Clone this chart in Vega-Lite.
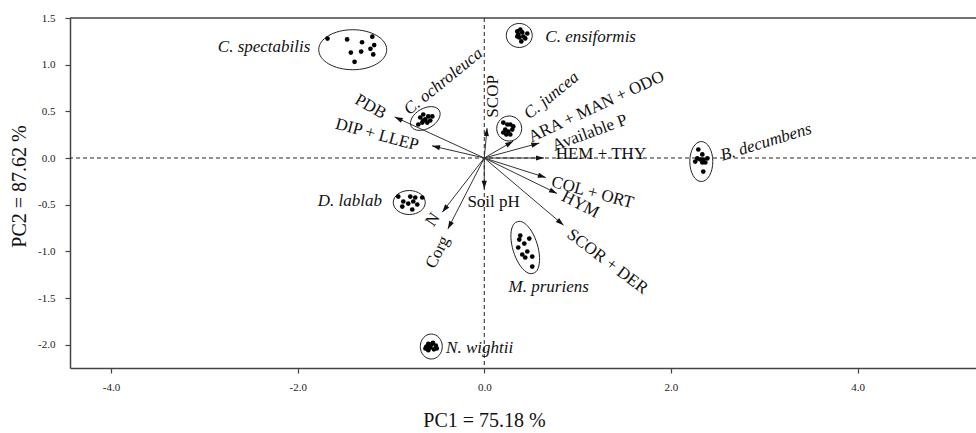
{
  "$schema": "https://vega.github.io/schema/vega-lite/v6.json",
  "width": 906,
  "height": 350,
  "autosize": {"type": "none"},
  "padding": {"left": 70, "top": 18, "right": 0, "bottom": 65},
  "background": "white",
  "config": {
    "view": {"stroke": null},
    "locale": {"number": {"decimal": ".", "thousands": ",", "grouping": [3], "currency": ["$", ""], "minus": "-"}},
    "axis": {
      "grid": false,
      "labelFont": "Liberation Serif",
      "labelFontSize": 11,
      "labelColor": "#222",
      "domainColor": "#444",
      "domainWidth": 1.5,
      "tickColor": "#444",
      "tickSize": 5,
      "tickWidth": 1.2,
      "titleFont": "Liberation Serif",
      "titleFontSize": 20,
      "titleFontWeight": "normal",
      "titleColor": "#111"
    },
    "text": {"font": "Liberation Serif", "fontSize": 17, "color": "#111"}
  },
  "datasets": {
    "points": [
      {"group": "C. spectabilis", "x": -1.68, "y": 1.28},
      {"group": "C. spectabilis", "x": -1.47, "y": 1.27},
      {"group": "C. spectabilis", "x": -1.31, "y": 1.24},
      {"group": "C. spectabilis", "x": -1.2, "y": 1.3},
      {"group": "C. spectabilis", "x": -1.18, "y": 1.21},
      {"group": "C. spectabilis", "x": -1.22, "y": 1.17},
      {"group": "C. spectabilis", "x": -1.32, "y": 1.14},
      {"group": "C. spectabilis", "x": -1.43, "y": 1.13},
      {"group": "C. spectabilis", "x": -1.19, "y": 1.11},
      {"group": "C. spectabilis", "x": -1.39, "y": 1.03},
      {"group": "C. ensiformis", "x": 0.354, "y": 1.356},
      {"group": "C. ensiformis", "x": 0.386, "y": 1.377},
      {"group": "C. ensiformis", "x": 0.407, "y": 1.345},
      {"group": "C. ensiformis", "x": 0.364, "y": 1.324},
      {"group": "C. ensiformis", "x": 0.418, "y": 1.302},
      {"group": "C. ensiformis", "x": 0.375, "y": 1.292},
      {"group": "C. ensiformis", "x": 0.439, "y": 1.281},
      {"group": "C. ensiformis", "x": 0.397, "y": 1.249},
      {"group": "C. ensiformis", "x": 0.354, "y": 1.302},
      {"group": "C. ensiformis", "x": 0.461, "y": 1.334},
      {"group": "C. ochroleuca", "x": -0.686, "y": 0.434},
      {"group": "C. ochroleuca", "x": -0.654, "y": 0.466},
      {"group": "C. ochroleuca", "x": -0.632, "y": 0.413},
      {"group": "C. ochroleuca", "x": -0.6, "y": 0.445},
      {"group": "C. ochroleuca", "x": -0.665, "y": 0.38},
      {"group": "C. ochroleuca", "x": -0.707, "y": 0.359},
      {"group": "C. ochroleuca", "x": -0.611, "y": 0.38},
      {"group": "C. ochroleuca", "x": -0.579, "y": 0.402},
      {"group": "C. ochroleuca", "x": -0.654, "y": 0.402},
      {"group": "C. ochroleuca", "x": -0.557, "y": 0.445},
      {"group": "C. juncea", "x": 0.204, "y": 0.38},
      {"group": "C. juncea", "x": 0.247, "y": 0.359},
      {"group": "C. juncea", "x": 0.279, "y": 0.359},
      {"group": "C. juncea", "x": 0.225, "y": 0.305},
      {"group": "C. juncea", "x": 0.257, "y": 0.284},
      {"group": "C. juncea", "x": 0.3, "y": 0.305},
      {"group": "C. juncea", "x": 0.311, "y": 0.338},
      {"group": "C. juncea", "x": 0.236, "y": 0.252},
      {"group": "C. juncea", "x": 0.204, "y": 0.273},
      {"group": "C. juncea", "x": 0.279, "y": 0.252},
      {"group": "B. decumbens", "x": 2.294, "y": 0.091},
      {"group": "B. decumbens", "x": 2.337, "y": 0.038},
      {"group": "B. decumbens", "x": 2.283, "y": -0.005},
      {"group": "B. decumbens", "x": 2.315, "y": -0.016},
      {"group": "B. decumbens", "x": 2.347, "y": -0.016},
      {"group": "B. decumbens", "x": 2.39, "y": -0.005},
      {"group": "B. decumbens", "x": 2.261, "y": -0.038},
      {"group": "B. decumbens", "x": 2.337, "y": -0.048},
      {"group": "B. decumbens", "x": 2.369, "y": -0.048},
      {"group": "B. decumbens", "x": 2.347, "y": -0.145},
      {"group": "D. lablab", "x": -0.922, "y": -0.413},
      {"group": "D. lablab", "x": -0.793, "y": -0.413},
      {"group": "D. lablab", "x": -0.74, "y": -0.423},
      {"group": "D. lablab", "x": -0.665, "y": -0.423},
      {"group": "D. lablab", "x": -0.868, "y": -0.466},
      {"group": "D. lablab", "x": -0.761, "y": -0.466},
      {"group": "D. lablab", "x": -0.815, "y": -0.488},
      {"group": "D. lablab", "x": -0.718, "y": -0.498},
      {"group": "D. lablab", "x": -0.879, "y": -0.52},
      {"group": "D. lablab", "x": -0.772, "y": -0.552},
      {"group": "M. pruriens", "x": 0.386, "y": -0.831},
      {"group": "M. pruriens", "x": 0.375, "y": -0.874},
      {"group": "M. pruriens", "x": 0.482, "y": -0.863},
      {"group": "M. pruriens", "x": 0.429, "y": -0.917},
      {"group": "M. pruriens", "x": 0.364, "y": -0.959},
      {"group": "M. pruriens", "x": 0.461, "y": -1.002},
      {"group": "M. pruriens", "x": 0.407, "y": -1.034},
      {"group": "M. pruriens", "x": 0.439, "y": -1.066},
      {"group": "M. pruriens", "x": 0.514, "y": -1.056},
      {"group": "M. pruriens", "x": 0.514, "y": -1.163},
      {"group": "N. wightii", "x": -0.6, "y": -1.99},
      {"group": "N. wightii", "x": -0.55, "y": -1.98},
      {"group": "N. wightii", "x": -0.52, "y": -2.01},
      {"group": "N. wightii", "x": -0.58, "y": -2.03},
      {"group": "N. wightii", "x": -0.62, "y": -2.02},
      {"group": "N. wightii", "x": -0.54, "y": -2.05},
      {"group": "N. wightii", "x": -0.6, "y": -2.06},
      {"group": "N. wightii", "x": -0.57, "y": -2.0},
      {"group": "N. wightii", "x": -0.51, "y": -2.04},
      {"group": "N. wightii", "x": -0.63, "y": -2.04}
    ],
    "ellipses": [
      {"group": "C. spectabilis", "x": -1.41, "y": 1.16},
      {"group": "C. ensiformis", "x": 0.375, "y": 1.313},
      {"group": "C. ochroleuca", "x": -0.632, "y": 0.423},
      {"group": "C. juncea", "x": 0.267, "y": 0.316},
      {"group": "B. decumbens", "x": 2.326, "y": -0.038},
      {"group": "D. lablab", "x": -0.804, "y": -0.477},
      {"group": "M. pruriens", "x": 0.439, "y": -0.959},
      {"group": "N. wightii", "x": -0.568, "y": -2.02}
    ],
    "arrows": [
      {"variable": "PDB", "x0": 0, "y0": 0, "x": -0.96, "y": 0.44},
      {"variable": "DIP + LLEP", "x0": 0, "y0": 0, "x": -0.56, "y": 0.13},
      {"variable": "SCOP", "x0": 0, "y0": 0, "x": 0.03, "y": 0.32},
      {"variable": "ARA + MAN + ODO", "x0": 0, "y0": 0, "x": 0.31, "y": 0.18},
      {"variable": "Available P", "x0": 0, "y0": 0, "x": 0.59, "y": 0.16},
      {"variable": "HEM + THY", "x0": 0, "y0": 0, "x": 0.64, "y": 0.0},
      {"variable": "COL + ORT", "x0": 0, "y0": 0, "x": 0.66, "y": -0.21},
      {"variable": "HYM", "x0": 0, "y0": 0, "x": 0.78, "y": -0.38},
      {"variable": "SCOR + DER", "x0": 0, "y0": 0, "x": 0.85, "y": -0.72},
      {"variable": "Soil pH", "x0": 0, "y0": 0, "x": 0.0, "y": -0.33},
      {"variable": "N", "x0": 0, "y0": 0, "x": -0.45, "y": -0.58},
      {"variable": "Corg", "x0": 0, "y0": 0, "x": -0.39, "y": -0.76}
    ],
    "varLabels": [
      {"label": "PDB", "x": -1.22, "y": 0.55},
      {"label": "DIP + LLEP", "x": -1.15, "y": 0.25},
      {"label": "SCOP", "x": 0.09, "y": 0.66},
      {"label": "ARA + MAN + ODO", "x": 1.2, "y": 0.55},
      {"label": "Available  P", "x": 1.13, "y": 0.27},
      {"label": "HEM + THY", "x": 1.25, "y": 0.04},
      {"label": "COL + ORT", "x": 1.16, "y": -0.37},
      {"label": "HYM", "x": 1.03, "y": -0.5},
      {"label": "SCOR + DER", "x": 1.32, "y": -1.11},
      {"label": "Soil pH", "x": 0.1, "y": -0.47},
      {"label": "N", "x": -0.55, "y": -0.66},
      {"label": "Corg", "x": -0.5, "y": -1.01}
    ],
    "spLabels": [
      {"label": "C. spectabilis", "x": -2.36, "y": 1.19},
      {"label": "C. ensiformis", "x": 1.14, "y": 1.3},
      {"label": "C. ochroleuca", "x": -0.44, "y": 0.82},
      {"label": "C. juncea", "x": 0.72, "y": 0.67},
      {"label": "B. decumbens", "x": 3.02, "y": 0.17},
      {"label": "D. lablab", "x": -1.44, "y": -0.46},
      {"label": "M. pruriens", "x": 0.69, "y": -1.38},
      {"label": "N. wightii", "x": -0.05, "y": -2.04}
    ],
    "refs": [
      {"x": 0, "y": 0, "top": 1.5}
    ]
  },
  "layer": [
    {
      "data": {"name": "refs"},
      "mark": {"type": "rule", "color": "#444", "strokeWidth": 1.5},
      "encoding": {"y": {"field": "top", "type": "quantitative", "scale": {"domain": [-2.25, 1.5], "nice": false, "zero": false}}}
    },
    {
      "data": {"name": "refs"},
      "mark": {"type": "rule", "color": "#222", "strokeWidth": 1, "strokeDash": [4, 3]},
      "encoding": {"y": {"field": "y", "type": "quantitative", "scale": {"domain": [-2.25, 1.5], "nice": false, "zero": false}}}
    },
    {
      "data": {"name": "refs"},
      "mark": {"type": "rule", "color": "#222", "strokeWidth": 1, "strokeDash": [4, 3]},
      "encoding": {"x": {"field": "x", "type": "quantitative", "scale": {"domain": [-4.44, 5.27], "nice": false, "zero": false}}}
    },
    {
      "data": {"name": "arrows"},
      "mark": {"type": "rule", "color": "#333", "strokeWidth": 1},
      "encoding": {
        "x": {"field": "x0", "type": "quantitative", "scale": {"domain": [-4.44, 5.27], "nice": false, "zero": false}},
        "y": {"field": "y0", "type": "quantitative", "scale": {"domain": [-2.25, 1.5], "nice": false, "zero": false}},
        "x2": {"field": "x"},
        "y2": {"field": "y"}
      }
    },
    {
      "data": {"name": "arrows"},
      "transform": [{"calculate": "atan2(datum.x, datum.y) * 180 / PI", "as": "ang"}],
      "mark": {"type": "point", "shape": "M0,0L-2.6,8L2.6,8Z", "size": 4, "filled": true, "color": "#111", "opacity": 1},
      "encoding": {
        "x": {"field": "x", "type": "quantitative", "scale": {"domain": [-4.44, 5.27], "nice": false, "zero": false}},
        "y": {"field": "y", "type": "quantitative", "scale": {"domain": [-2.25, 1.5], "nice": false, "zero": false}},
        "angle": {"field": "ang", "type": "quantitative", "scale": null}
      }
    },
    {
      "data": {"name": "ellipses"},
      "mark": {"type": "point", "size": 4, "filled": false, "stroke": "#222", "strokeWidth": 1, "opacity": 1},
      "encoding": {
        "x": {"field": "x", "type": "quantitative", "scale": {"domain": [-4.44, 5.27], "nice": false, "zero": false}},
        "y": {"field": "y", "type": "quantitative", "scale": {"domain": [-2.25, 1.5], "nice": false, "zero": false}},
        "shape": {
          "field": "group",
          "type": "nominal",
          "legend": null,
          "scale": {
            "domain": ["C. spectabilis", "C. ensiformis", "C. ochroleuca", "C. juncea", "B. decumbens", "D. lablab", "M. pruriens", "N. wightii"],
            "range": [
              "M-34,0A34,20 0 1,0 34,0A34,20 0 1,0 -34,0Z",
              "M-13,0A13,12 0 1,0 13,0A13,12 0 1,0 -13,0Z",
              "M-14,8A16,10 -30 1,0 14,-8A16,10 -30 1,0 -14,8Z",
              "M-12.5,0A12.5,12.5 0 1,0 12.5,0A12.5,12.5 0 1,0 -12.5,0Z",
              "M-11.5,0A11.5,20 0 1,0 11.5,0A11.5,20 0 1,0 -11.5,0Z",
              "M-16,0A16,12 0 1,0 16,0A16,12 0 1,0 -16,0Z",
              "M-7.9,-25.8A27,12 73 1,0 7.9,25.8A27,12 73 1,0 -7.9,-25.8Z",
              "M-11,0A11,12.5 0 1,0 11,0A11,12.5 0 1,0 -11,0Z"
            ]
          }
        }
      }
    },
    {
      "data": {"name": "points"},
      "mark": {"type": "circle", "size": 22, "color": "#000", "opacity": 1},
      "encoding": {
        "x": {
          "field": "x", "type": "quantitative",
          "scale": {"domain": [-4.44, 5.27], "nice": false, "zero": false},
          "axis": {"title": "PC1 = 75.18 %", "values": [-4, -2, 0, 2, 4], "format": ".1f", "labelPadding": 8, "titleX": 414, "titleY": 58, "titleAlign": "center", "titleBaseline": "alphabetic", "titleAnchor": null}
        },
        "y": {
          "field": "y", "type": "quantitative",
          "scale": {"domain": [-2.25, 1.5], "nice": false, "zero": false},
          "axis": {"title": "PC2 = 87.62 %", "values": [-2, -1.5, -1, -0.5, 0, 0.5, 1, 1.5], "format": ".1f", "labelPadding": 10, "titleX": -51, "titleY": 168, "titleAngle": -90, "titleAlign": "center", "titleBaseline": "middle", "titleAnchor": null}
        }
      }
    },
    {
      "data": {"name": "spLabels"},
      "mark": {"type": "text", "fontStyle": "italic", "align": "center", "baseline": "middle"},
      "encoding": {
        "x": {"field": "x", "type": "quantitative", "scale": {"domain": [-4.44, 5.27], "nice": false, "zero": false}},
        "y": {"field": "y", "type": "quantitative", "scale": {"domain": [-2.25, 1.5], "nice": false, "zero": false}},
        "text": {"field": "label", "type": "nominal"},
        "angle": {
          "condition": [
            {"test": "datum.label === 'C. ochroleuca'", "value": -39},
            {"test": "datum.label === 'C. juncea'", "value": -39},
            {"test": "datum.label === 'B. decumbens'", "value": -17}
          ],
          "value": 0
        }
      }
    },
    {
      "data": {"name": "varLabels"},
      "mark": {"type": "text", "align": "center", "baseline": "middle"},
      "encoding": {
        "x": {"field": "x", "type": "quantitative", "scale": {"domain": [-4.44, 5.27], "nice": false, "zero": false}},
        "y": {"field": "y", "type": "quantitative", "scale": {"domain": [-2.25, 1.5], "nice": false, "zero": false}},
        "text": {"field": "label", "type": "nominal"},
        "angle": {
          "condition": [
            {"test": "datum.label === 'PDB'", "value": 30},
            {"test": "datum.label === 'DIP + LLEP'", "value": 15},
            {"test": "datum.label === 'SCOP'", "value": -90},
            {"test": "datum.label === 'ARA + MAN + ODO'", "value": -25},
            {"test": "datum.label === 'Available  P'", "value": -20},
            {"test": "datum.label === 'COL + ORT'", "value": 15},
            {"test": "datum.label === 'HYM'", "value": 27},
            {"test": "datum.label === 'SCOR + DER'", "value": 37},
            {"test": "datum.label === 'N'", "value": -55},
            {"test": "datum.label === 'Corg'", "value": -63}
          ],
          "value": 0
        }
      }
    }
  ]
}
